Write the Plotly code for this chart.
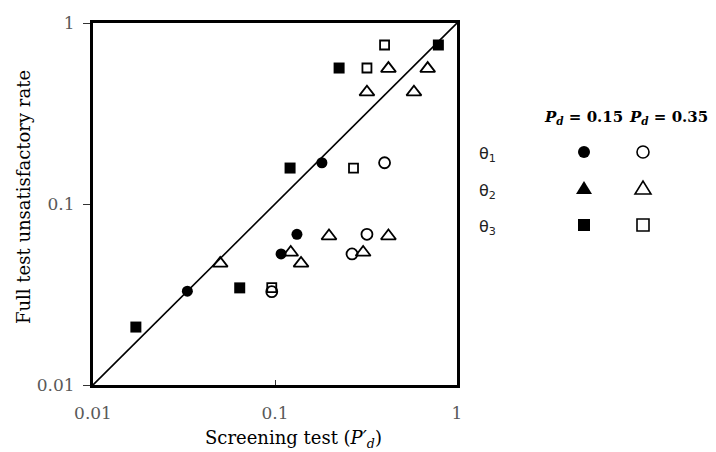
import plotly.graph_objects as go

# ---- data ----
tick_vals = [0.01, 0.1, 1]
tick_text = ["0.01", "0.1", "1"]

t1_015_x = [0.181, 0.132, 0.108, 0.033]
t1_015_y = [0.169, 0.068, 0.053, 0.033]
t1_035_x = [0.40, 0.32, 0.265, 0.096]
t1_035_y = [0.169, 0.068, 0.053, 0.0328]

t2_015_x = []
t2_015_y = []
t2_035_x = [0.42, 0.69, 0.32, 0.58, 0.198, 0.42, 0.122, 0.305, 0.139, 0.050]
t2_035_y = [0.56, 0.56, 0.415, 0.415, 0.0665, 0.0665, 0.054, 0.054, 0.047, 0.047]

t3_015_x = [0.79, 0.225, 0.121, 0.064, 0.0172]
t3_015_y = [0.756, 0.564, 0.158, 0.0344, 0.0209]
t3_035_x = [0.40, 0.32, 0.27, 0.096]
t3_035_y = [0.756, 0.564, 0.158, 0.0345]

diag = [0.01, 1]

legend_cols = ["0.15", "0.35"]
legend_rows = ["1", "2", "3"]

W, H = 716, 452
OFF = 8  # page body margin in the browser
L, T = 93 - OFF, 23 - OFF
PW, PH = 364, 362
R, B = W - L - PW, H - T - PH

def px(x):  # screen pixel -> paper x
    return (x - OFF - L) / PW

def py(y):  # screen pixel -> paper y
    return (T + PH - (y - OFF)) / PH

serif = "DejaVu Serif"
fig = go.Figure()

fig.add_trace(go.Scatter(x=diag, y=diag, mode="lines",
                         line=dict(color="black", width=1.6),
                         hoverinfo="skip", showlegend=False))

def add(xs, ys, symbol, size, lw=0):
    fig.add_trace(go.Scatter(
        x=xs, y=ys, mode="markers", showlegend=False,
        marker=dict(symbol=symbol, size=size, color="black",
                    line=dict(width=lw, color="black"))))

add(t1_015_x, t1_015_y, "circle", 11)
add(t1_035_x, t1_035_y, "circle-open", 11, 1.8)
add(t2_015_x, t2_015_y, "triangle-up", 13)
add(t2_035_x, t2_035_y, "triangle-up-open", 13, 1.8)
add(t3_015_x, t3_015_y, "square", 11)
add(t3_035_x, t3_035_y, "square-open", 9, 1.8)

axis_common = dict(type="log", range=[-2, 0], showgrid=False, zeroline=False,
                   showline=True, mirror=True, linecolor="black", linewidth=3,
                   tickvals=tick_vals, ticktext=tick_text,
                   tickfont=dict(family=serif, size=17, color="#595959"),
                   tickcolor="#333333", tickwidth=1.2)

fig.update_layout(
    width=W, height=H, autosize=False,
    margin=dict(l=L, r=R, t=T, b=B, autoexpand=False),
    paper_bgcolor="white", plot_bgcolor="white",
    xaxis=dict(ticks="inside", ticklen=5, ticklabelstandoff=11, **axis_common),
    yaxis=dict(ticks="outside", ticklen=7, ticklabelstandoff=5, **axis_common),
)

# legend symbols as shapes
col_px = [584, 643]
row_py = [152, 189, 225]
shapes = []
for r in range(3):
    for c in range(2):
        filled = c == 0
        base = dict(xref="paper", yref="paper", xsizemode="pixel", ysizemode="pixel",
                    xanchor=px(col_px[c]), yanchor=py(row_py[r]),
                    line=dict(color="black", width=0 if filled else 1.6),
                    fillcolor="black" if filled else "white")
        if r == 0:
            shapes.append(dict(type="circle", x0=-6, x1=6, y0=-6, y1=6, **base))
        elif r == 1:
            shapes.append(dict(type="path", path="M -8,-5 L 8,-5 L 0,8 Z", **base))
        else:
            shapes.append(dict(type="rect", x0=-6, x1=6, y0=-6, y1=6, **base))
fig.update_layout(shapes=shapes)

ann = []
ann.append(dict(text="Full test unsatisfactory rate", x=px(23), y=py(197),
                xref="paper", yref="paper", showarrow=False, textangle=-90,
                xanchor="center", yanchor="middle",
                font=dict(family=serif, size=18, color="black")))
ann.append(dict(text="Screening test (<i>P′</i><sub><i>d</i></sub>)", x=px(293), y=py(439),
                xref="paper", yref="paper", showarrow=False,
                xanchor="center", yanchor="middle",
                font=dict(family=serif, size=18, color="black")))
head_px = [583, 668]
for i, val in enumerate(legend_cols):
    ann.append(dict(text=f"<b><i>P</i><sub><i>d</i></sub> = {val}</b>",
                    x=px(head_px[i]), y=py(117), xref="paper", yref="paper",
                    xanchor="center", yanchor="middle",
                    showarrow=False, font=dict(family=serif, size=15, color="black")))
for r, lab in enumerate(legend_rows):
    ann.append(dict(text=f"θ<sub>{lab}</sub>", x=px(477), y=py(row_py[r] + 2),
                    xref="paper", yref="paper", xanchor="left", yanchor="middle",
                    showarrow=False,
                    font=dict(family="DejaVu Sans", size=16, color="#222222")))
fig.update_layout(annotations=ann)

fig.write_html("out.html")
